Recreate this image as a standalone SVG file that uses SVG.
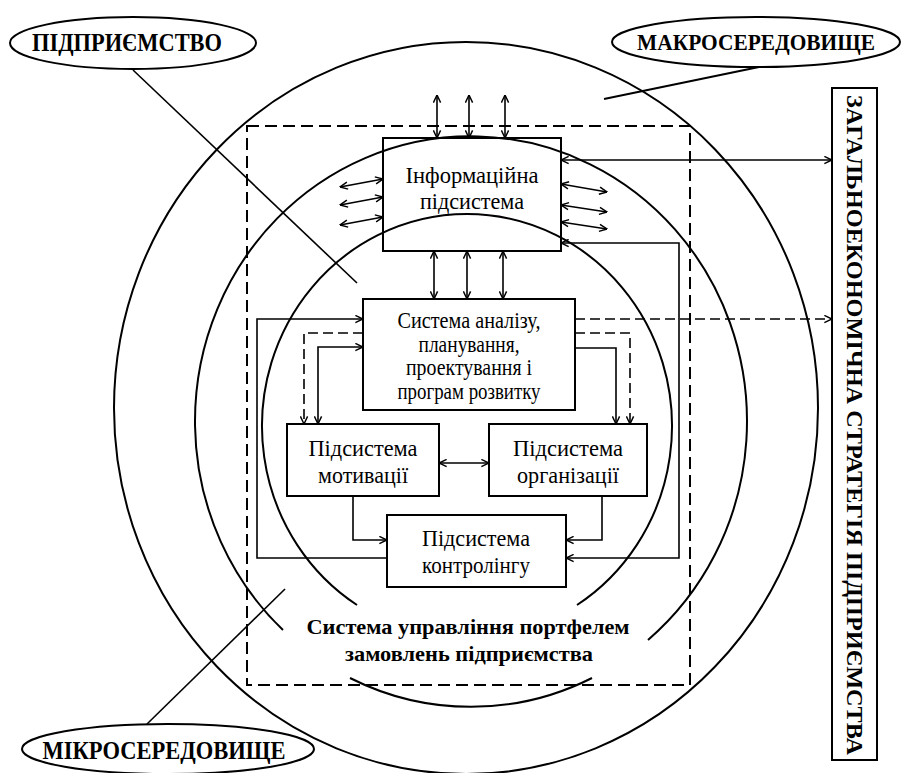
<svg xmlns="http://www.w3.org/2000/svg" width="904" height="773" viewBox="0 0 904 773">
<style>
.ln{fill:none;stroke:#000;stroke-width:2}
.c{fill:none;stroke:#000;stroke-width:1.6}
.d{stroke-dasharray:10,5}
.box{fill:none;stroke:#000;stroke-width:2}
.t{font-family:"Liberation Serif","Times New Roman",serif;font-size:23px;fill:#000;text-anchor:middle}
.b{font-family:"Liberation Serif","Times New Roman",serif;font-weight:bold;fill:#000;text-anchor:middle}
</style>
<defs>
<marker id="a" viewBox="0 0 10 10" refX="9.5" refY="5" markerWidth="9" markerHeight="9" markerUnits="userSpaceOnUse" orient="auto-start-reverse">
<path d="M1,1 L9.5,5 L1,9" fill="none" stroke="#000" stroke-width="1.6"/>
</marker>
</defs>
<rect width="904" height="773" fill="#fff"/>

<g id="environment">
<ellipse class="ln" cx="466" cy="408" rx="352" ry="366"/>
<path class="ln" d="M648,640 A276,285 0 1 0 283,630"/>
<path class="ln" d="M350,678 A276,285 0 0 0 592,678"/>
<path class="ln" d="M577,605 A205,212 0 1 0 357,605"/>
<rect class="ln" x="247" y="126" width="443" height="559" stroke-dasharray="12,6"/>
</g>

<g id="label-pidpryiemstvo">
<ellipse class="ln" cx="133" cy="43" rx="123" ry="26"/>
<text class="b" x="127" y="51" font-size="25" textLength="190" lengthAdjust="spacingAndGlyphs">ПІДПРИЄМСТВО</text>
<line class="c" x1="133" y1="70" x2="357" y2="283"/>
</g>

<g id="label-makro">
<ellipse class="ln" cx="756" cy="42" rx="144" ry="25"/>
<text class="b" x="756" y="50" font-size="24" textLength="238" lengthAdjust="spacingAndGlyphs">МАКРОСЕРЕДОВИЩЕ</text>
<line class="ln" x1="759" y1="67" x2="604" y2="99"/>
</g>

<g id="label-mikro">
<ellipse class="ln" cx="168" cy="749" rx="146" ry="25"/>
<text class="b" x="164" y="759" font-size="25" textLength="243" lengthAdjust="spacingAndGlyphs">МІКРОСЕРЕДОВИЩЕ</text>
<line class="c" x1="147" y1="724" x2="285" y2="589"/>
</g>

<g id="info">
<rect class="box" x="383" y="138" width="178" height="113"/>
<text class="t" x="472" y="183" textLength="133" lengthAdjust="spacingAndGlyphs">Інформаційна</text>
<text class="t" x="472" y="209" textLength="104" lengthAdjust="spacingAndGlyphs">підсистема</text>
</g>

<g id="analysis">
<rect class="box" x="363" y="299" width="212" height="111"/>
<text class="t" x="469" y="328" textLength="143" lengthAdjust="spacingAndGlyphs">Система аналізу,</text>
<text class="t" x="469" y="352" textLength="101" lengthAdjust="spacingAndGlyphs">планування,</text>
<text class="t" x="469" y="375" textLength="126" lengthAdjust="spacingAndGlyphs">проектування і</text>
<text class="t" x="469" y="399" textLength="143" lengthAdjust="spacingAndGlyphs">програм розвитку</text>
</g>

<g id="motivation">
<rect class="box" x="287" y="424" width="152" height="72"/>
<text class="t" x="363" y="456" textLength="109" lengthAdjust="spacingAndGlyphs">Підсистема</text>
<text class="t" x="363" y="483" textLength="90" lengthAdjust="spacingAndGlyphs">мотивації</text>
</g>

<g id="organisation">
<rect class="box" x="489" y="424" width="158" height="72"/>
<text class="t" x="568" y="456" textLength="110" lengthAdjust="spacingAndGlyphs">Підсистема</text>
<text class="t" x="568" y="483" textLength="102" lengthAdjust="spacingAndGlyphs">організації</text>
</g>

<g id="controlling">
<rect class="box" x="387" y="515" width="179" height="72"/>
<text class="t" x="476" y="546" textLength="108" lengthAdjust="spacingAndGlyphs">Підсистема</text>
<text class="t" x="476" y="573" textLength="108" lengthAdjust="spacingAndGlyphs">контролінгу</text>
</g>

<g id="portfolio">
<text class="b" x="468" y="634" font-size="22" textLength="323" lengthAdjust="spacingAndGlyphs">Система управління портфелем</text>
<text class="b" x="469" y="661" font-size="22" textLength="248" lengthAdjust="spacingAndGlyphs">замовлень підприємства</text>
</g>

<g id="strategy">
<rect class="box" x="832" y="88" width="45" height="672"/>
<text class="b" transform="translate(855,425) rotate(90)" x="0" y="8" font-size="24" textLength="660" lengthAdjust="spacingAndGlyphs">ЗАГАЛЬНОЕКОНОМІЧНА СТРАТЕГІЯ ПІДПРИЄМСТВА</text>
</g>

<g id="connectors">
<g class="c" marker-start="url(#a)" marker-end="url(#a)">
<line x1="437" y1="95" x2="437" y2="138"/>
<line x1="469" y1="95" x2="469" y2="138"/>
<line x1="505" y1="95" x2="505" y2="138"/>
<line x1="340" y1="187" x2="383" y2="179"/>
<line x1="340" y1="205" x2="383" y2="197"/>
<line x1="340" y1="225" x2="383" y2="217"/>
<line x1="561" y1="184" x2="607" y2="192"/>
<line x1="561" y1="205" x2="607" y2="212"/>
<line x1="561" y1="222" x2="607" y2="229"/>
<line x1="434" y1="251" x2="434" y2="299"/>
<line x1="467" y1="251" x2="467" y2="299"/>
<line x1="503" y1="251" x2="503" y2="299"/>
<line x1="561" y1="160" x2="832" y2="160"/>
<path d="M561,243 H679 V558 H566"/>
<path d="M363,347 H318 V424"/>
<line x1="439" y1="463" x2="489" y2="463"/>
</g>
<g class="c" marker-end="url(#a)">
<path d="M575,348 H616 V424"/>
<path d="M353,496 V540 H387"/>
<path d="M602,496 V540 H566"/>
<path d="M387,558 H257 V319 H363"/>
</g>
<g class="c d" marker-end="url(#a)">
<path d="M575,319 H832"/>
<path d="M575,333 H630 V424"/>
<path d="M363,333 H304 V424"/>
</g>
</g>
</svg>
